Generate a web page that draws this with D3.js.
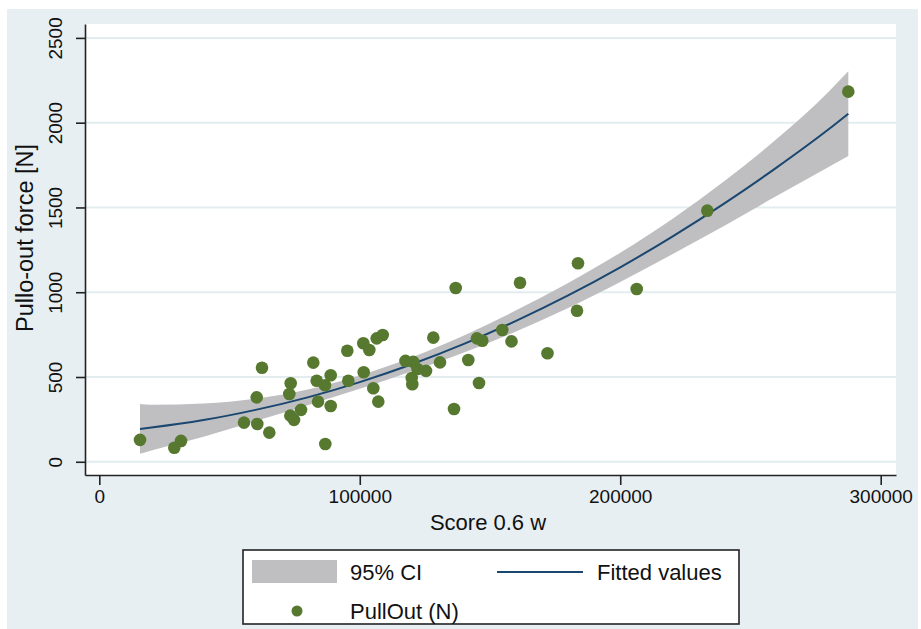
<!DOCTYPE html>
<html>
<head>
<meta charset="utf-8">
<script src="https://cdn.jsdelivr.net/npm/d3@7"></script>
<style>
  body { margin: 0; background: #fff; }
  svg { font-family: "Liberation Sans", Arial, sans-serif; }
</style>
</head>
<body>
<svg id="grafico" width="921" height="629"></svg>
<script>
// pontos observados
const score = [15630, 28790, 31370, 55550, 60660, 65270, 62460, 60430, 73480, 72950,
  73330, 74750, 77440, 82160, 83470, 86650, 88840, 83970, 88840, 86770,
  95210, 95600, 101360, 103660, 106500, 108800, 101510, 105200, 107110, 117560,
  120560, 122160, 125430, 119940, 120170, 130800, 128230, 141670, 145780, 136180,
  136830, 144990, 147040, 154720, 158250, 161520, 172070, 183780, 183400, 206320,
  233420, 287560];
const pullOut = [129, 83, 123, 231, 223, 172, 555, 380, 463, 400,
  272, 247, 306, 585, 478, 451, 510, 355, 329, 105,
  655, 478, 699, 659, 728, 748, 528, 434, 355, 595,
  589, 547, 536, 494, 457, 586, 732, 600, 465, 311,
  1025, 728, 714, 777, 710, 1056, 640, 1171, 891, 1019,
  1481, 2183];

// curva ajustada e IC 95%
const ajusteX = [15630, 20000, 40000, 60000, 80000, 100000, 120000, 140000, 160000,
  180000, 200000, 220000, 240000, 260000, 280000, 287560];
const ajuste = [194, 202, 246, 306, 380, 470, 575, 695, 831, 981, 1147, 1328, 1524, 1735, 1961, 2053];
const icSup = [341, 337, 344, 372, 426, 509, 616, 745, 893, 1055, 1233, 1432, 1656, 1903, 2183, 2303];
const icInf = [47, 67, 148, 240, 334, 431, 534, 645, 769, 907, 1061, 1224, 1392, 1567, 1739, 1803];

const ticksX = [0, 100000, 200000, 300000];
const ticksY = [0, 500, 1000, 1500, 2000, 2500];

const svg = d3.select('#grafico');
const area = { esquerda: 85, direita: 896, superior: 24, inferior: 475 };

const x = d3.scaleLinear().domain([-5490, 305870]).range([area.esquerda, area.direita]);
const y = d3.scaleLinear().domain([-78, 2582]).range([area.inferior, area.superior]);

// fundo
svg.append('rect').attr('x', 7).attr('y', 9).attr('width', 911).attr('height', 620).attr('fill', '#e7eff2');
svg.append('rect')
  .attr('x', area.esquerda).attr('y', area.superior)
  .attr('width', area.direita - area.esquerda).attr('height', area.inferior - area.superior)
  .attr('fill', '#fff');

// grade
svg.selectAll('.grade')
  .data(ticksY)
  .enter()
  .append('line')
  .attr('x1', area.esquerda).attr('x2', area.direita)
  .attr('y1', d => y(d)).attr('y2', d => y(d))
  .attr('stroke', '#e3edf0').attr('stroke-width', 2);

const pontosIC = ajusteX.map((d, i) => ({ x: d, sup: icSup[i], inf: icInf[i], fit: ajuste[i] }));

svg.append('path')
  .datum(pontosIC)
  .attr('fill', '#bfbfc1')
  .attr('d', d3.area().curve(d3.curveMonotoneX).x(d => x(d.x)).y0(d => y(d.inf)).y1(d => y(d.sup)));

svg.append('path')
  .datum(pontosIC)
  .attr('fill', 'none')
  .attr('stroke', '#1a476f')
  .attr('stroke-width', 2)
  .attr('d', d3.line().curve(d3.curveMonotoneX).x(d => x(d.x)).y(d => y(d.fit)));

svg.selectAll('.ponto')
  .data(score)
  .enter()
  .append('circle')
  .attr('cx', d => x(d))
  .attr('cy', (d, i) => y(pullOut[i]))
  .attr('r', 6.3)
  .attr('fill', '#56792f');

// eixos
const eixoX = svg.append('g')
  .attr('transform', `translate(0, ${area.inferior})`)
  .call(d3.axisBottom(x).tickValues(ticksX).tickSize(10).tickSizeOuter(0).tickPadding(5).tickFormat(d3.format('d')));
eixoX.selectAll('text').attr('font-size', 19).attr('fill', '#111');

const eixoY = svg.append('g')
  .attr('transform', `translate(${area.esquerda}, 0)`)
  .call(d3.axisLeft(y).tickValues(ticksY).tickSize(9).tickSizeOuter(0).tickFormat(d3.format('d')));
eixoY.selectAll('text')
  .attr('x', 0).attr('y', -23).attr('dy', 0)
  .attr('text-anchor', 'middle')
  .attr('transform', 'rotate(-90)')
  .attr('font-size', 19).attr('fill', '#111');

svg.selectAll('.domain').attr('stroke', '#222').attr('stroke-width', 1.6);
svg.selectAll('.tick line').attr('stroke', '#222').attr('stroke-width', 1.6);

svg.append('text')
  .attr('x', 488).attr('y', 530)
  .attr('text-anchor', 'middle').attr('font-size', 22).attr('fill', '#111')
  .text('Score 0.6 w');

svg.append('text')
  .attr('transform', 'translate(33, 238) rotate(-90)')
  .attr('text-anchor', 'middle').attr('font-size', 23.5).attr('fill', '#111')
  .text('Pullo-out force [N]');

// legenda
const legenda = svg.append('g');
legenda.append('rect').attr('x', 243).attr('y', 550).attr('width', 496).attr('height', 74)
  .attr('fill', '#fff').attr('stroke', '#222').attr('stroke-width', 1.6);
legenda.append('rect').attr('x', 252).attr('y', 560).attr('width', 85).attr('height', 23).attr('fill', '#bfbfc1');
legenda.append('text').attr('x', 350).attr('y', 580).attr('font-size', 22).attr('fill', '#111').text('95% CI');
legenda.append('line').attr('x1', 497).attr('x2', 583).attr('y1', 572).attr('y2', 572)
  .attr('stroke', '#1a476f').attr('stroke-width', 2);
legenda.append('text').attr('x', 597).attr('y', 580).attr('font-size', 22).attr('fill', '#111').text('Fitted values');
legenda.append('circle').attr('cx', 297).attr('cy', 611).attr('r', 5.5).attr('fill', '#56792f');
legenda.append('text').attr('x', 350).attr('y', 619).attr('font-size', 22).attr('fill', '#111').text('PullOut (N)');
</script>
</body>
</html>
